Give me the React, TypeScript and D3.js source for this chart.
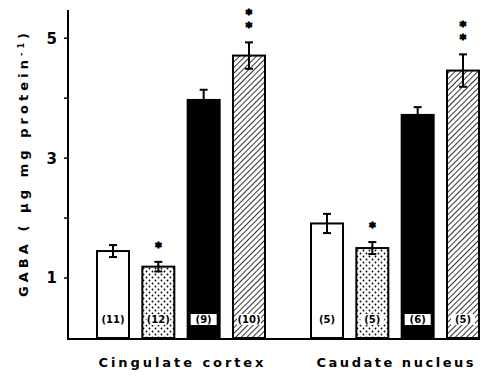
import * as d3 from 'd3';
import React from 'react';

// regions on the x axis
const regions = ['Cingulate cortex', 'Caudate nucleus'];
// four treatment groups per region
const groups = ['g1', 'g2', 'g3', 'g4'];
// GABA means (ug / mg protein)
const cingulateMeans = [1.45, 1.19, 3.97, 4.71];
const caudateMeans = [1.91, 1.5, 3.72, 4.46];
// standard errors
const cingulateSE = [0.1, 0.08, 0.17, 0.22];
const caudateSE = [0.16, 0.1, 0.13, 0.27];
// n per bar
const cingulateN = ['(11)', '(12)', '(9)', '(10)'];
const caudateN = ['(5)', '(5)', '(6)', '(5)'];
// significance marks
const cingulateStars = [0, 1, 0, 2];
const caudateStars = [0, 1, 0, 2];
const yTicks = [1, 2, 3, 4, 5];
const yTickLabels = ['1', '', '3', '', '5'];

const W = 489, H = 376;
const margin = { top: 10, left: 68, right: 10, bottom: 37 };

const fills = ['#fff', 'url(#dots)', '#000', 'url(#hatch)'];

export default function App() {
  const y = d3.scaleLinear().domain([0, 5.47]).range([H - margin.bottom - 1, margin.top]);
  const x0 = d3.scaleBand().domain(regions).range([97, 479]).paddingInner(0.215);
  const x1 = d3.scaleBand().domain(groups).range([0, x0.bandwidth()]).paddingInner(0.294);

  const rows = [
    { region: regions[0], means: cingulateMeans, se: cingulateSE, n: cingulateN, stars: cingulateStars },
    { region: regions[1], means: caudateMeans, se: caudateSE, n: caudateN, stars: caudateStars },
  ];

  const base = y(0);
  const font = "'DejaVu Sans', sans-serif";

  return (
    <svg width={W} height={H} style={{ position: 'absolute', left: 0, top: 0, background: '#fff' }}>
      <defs>
        <pattern id="dots" width="6" height="6" patternUnits="userSpaceOnUse">
          <circle cx="1.5" cy="1.5" r="0.9" fill="#000" />
          <circle cx="4.5" cy="4.5" r="0.9" fill="#000" />
        </pattern>
        <pattern id="hatch" width="4" height="4" patternUnits="userSpaceOnUse" patternTransform="rotate(45)">
          <line x1="0" y1="0" x2="0" y2="4" stroke="#000" strokeWidth="1.6" />
        </pattern>
      </defs>

      {/* axes */}
      <line x1={margin.left} x2={margin.left} y1={margin.top} y2={base + 1} stroke="#000" strokeWidth={2} />
      <line x1={margin.left - 1} x2={480} y1={base + 1} y2={base + 1} stroke="#000" strokeWidth={2} />
      {yTicks.map((t, i) => (
        <g key={t}>
          <line x1={margin.left - 4} x2={margin.left} y1={y(t)} y2={y(t)} stroke="#000" strokeWidth={1.5} />
          {yTickLabels[i] && (
            <text x={margin.left - 11} y={y(t)} dy="0.36em" textAnchor="end" fontFamily={font}
              fontWeight="bold" fontSize={15}>{yTickLabels[i]}</text>
          )}
        </g>
      ))}

      <text transform={`translate(28,165) rotate(-90)`} textAnchor="middle" fontFamily={font}
        fontWeight="bold" fontSize={13} textLength={264} lengthAdjust="spacing">
        GABA ( µg  mg protein<tspan dy="-4" fontSize={8}>-1</tspan><tspan dy="4">)</tspan>
      </text>

      {rows.map(r => (
        <g key={r.region} transform={`translate(${x0(r.region)},0)`}>
          {groups.map((g, i) => {
            const bx = x1(g)!;
            const bw = x1.bandwidth();
            const top = y(r.means[i]);
            const cx = bx + bw / 2;
            const eTop = y(r.means[i] + r.se[i]);
            const eBot = y(r.means[i] - r.se[i]);
            return (
              <g key={g}>
                <rect x={bx} y={top} width={bw} height={base - top} fill={fills[i]} stroke="#000" strokeWidth={2} />
                <line x1={cx} x2={cx} y1={eTop} y2={i === 2 ? top : eBot} stroke="#000" strokeWidth={2} />
                <line x1={cx - 4} x2={cx + 4} y1={eTop} y2={eTop} stroke="#000" strokeWidth={2} />
                {i !== 2 && <line x1={cx - 4} x2={cx + 4} y1={eBot} y2={eBot} stroke="#000" strokeWidth={2} />}
                {i === 2 && <rect x={bx + 3} y={base - 24} width={bw - 6} height={11} fill="#fff" />}
                {i !== 2 && <rect x={cx - 12} y={base - 24} width={24} height={11} fill="#fff" />}
                <text x={cx} y={base - 18.5} dy="0.36em" textAnchor="middle" fontFamily={font}
                  fontWeight="bold" fontSize={10}>{r.n[i]}</text>
                {d3.range(r.stars[i]).map(k => (
                  <text key={k} x={cx} y={eTop - 11 - k * 13} textAnchor="middle" fontFamily={font}
                    fontWeight="bold" fontSize={12} stroke="#000" strokeWidth={1.2}>*</text>
                ))}
              </g>
            );
          })}
          <text x={x0.bandwidth() / 2} y={367} textAnchor="middle" fontFamily={font} fontWeight="bold"
            fontSize={13} textLength={r.region === regions[0] ? 165 : 157} lengthAdjust="spacing">{r.region}</text>
        </g>
      ))}
    </svg>
  );
}
